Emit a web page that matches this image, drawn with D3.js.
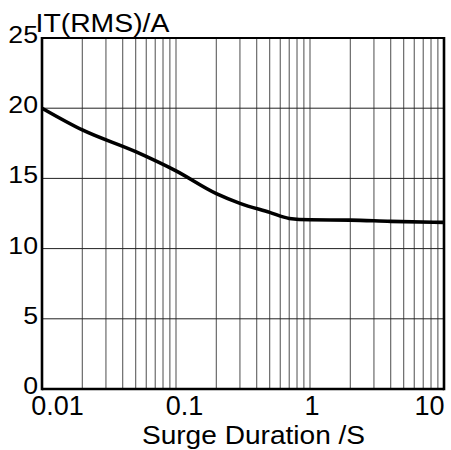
<!DOCTYPE html>
<html>
<head>
<meta charset="utf-8">
<script src="https://cdn.jsdelivr.net/npm/d3@7/dist/d3.min.js"></script>
<style>
  html, body { margin: 0; padding: 0; background: #fff; }
  svg { display: block; }
  text { font-family: "Liberation Sans", Arial, Helvetica, sans-serif; fill: #000; }
</style>
</head>
<body>
<svg id="chart" width="451" height="450"></svg>
<script>
// Surge duration (s) vs. RMS on-state current (A)
const durations = [0.01, 0.02, 0.05, 0.1, 0.2, 0.3, 0.5, 0.7, 1, 2, 4, 10];
const currents  = [20.0, 18.45, 16.9, 15.53, 13.91, 13.22, 12.58, 12.15, 12.05, 12.03, 11.94, 11.87];

const xTickValues = [0.01, 0.1, 1, 10];
const xTickLabels = ["0.01", "0.1", "1", "10"];
const yTickValues = [0, 5, 10, 15, 20, 25];
const yTickLabels = ["0", "5", "10", "15", "20", "25"];

const yTitle = "IT(RMS)/A";
const xTitle = "Surge Duration /S";

const svg = d3.select("#chart");
const plotLeft = 42, plotRight = 444, plotTop = 38, plotBottom = 389;

const x = d3.scaleLog().domain([0.01, 10]).range([plotLeft, plotRight]);
const y = d3.scaleLinear().domain([0, 25]).range([plotBottom, plotTop]);

// minor log grid: 2..9 in each decade plus the decade lines
const vGrid = [];
for (let e = -2; e < 1; e++) {
  for (let m = 1; m <= 10; m++) {
    const v = m * Math.pow(10, e);
    if (v > 0.01 && v < 10) vGrid.push(+v.toPrecision(3));
  }
}
const uniq = Array.from(new Set(vGrid));

svg.append("g")
  .selectAll("line").data(uniq).join("line")
  .attr("x1", d => x(d)).attr("x2", d => x(d))
  .attr("y1", plotTop).attr("y2", plotBottom)
  .attr("stroke", "#6a6a6a").attr("stroke-width", 1.2);

svg.append("g")
  .selectAll("line").data([5, 10, 15, 20]).join("line")
  .attr("x1", plotLeft).attr("x2", plotRight)
  .attr("y1", d => y(d)).attr("y2", d => y(d))
  .attr("stroke", "#222").attr("stroke-width", 1);

// frame
svg.append("line").attr("x1", plotLeft).attr("x2", plotRight).attr("y1", plotTop).attr("y2", plotTop)
  .attr("stroke", "#000").attr("stroke-width", 2);
svg.append("line").attr("x1", plotLeft).attr("x2", plotRight).attr("y1", plotBottom).attr("y2", plotBottom)
  .attr("stroke", "#000").attr("stroke-width", 2.6);
svg.append("line").attr("x1", plotLeft).attr("x2", plotLeft).attr("y1", plotTop - 1).attr("y2", plotBottom + 1.3)
  .attr("stroke", "#000").attr("stroke-width", 2.6);
svg.append("line").attr("x1", plotRight).attr("x2", plotRight).attr("y1", plotTop - 1).attr("y2", plotBottom + 1.3)
  .attr("stroke", "#000").attr("stroke-width", 2.6);

// curve
const line = d3.line()
  .x((d, i) => x(durations[i]))
  .y(d => y(d))
  .curve(d3.curveMonotoneX);

svg.append("path")
  .datum(currents)
  .attr("d", line)
  .attr("fill", "none")
  .attr("stroke", "#000")
  .attr("stroke-width", 3.6)
  .attr("stroke-linecap", "butt");

// places a text at (px, py) with a horizontal stretch
function stretched(g, str, px, py, size, sx, anchor) {
  return g.append("text")
    .attr("transform", `translate(${px},${py}) scale(${sx},1)`)
    .attr("text-anchor", anchor)
    .attr("font-size", size)
    .text(str);
}

// y tick labels
const yl = svg.append("g");
yTickValues.forEach((v, i) => {
  stretched(yl, yTickLabels[i], plotLeft - 4, y(v) + 5, 24.5, 1.09, "end");
});

// x tick labels, edge labels pulled inside the frame
const xl = svg.append("g");
const xNudge = [15.5, 8.5, 2, -14.5];
xTickValues.forEach((v, i) => {
  xl.append("text")
    .attr("x", x(v) + xNudge[i])
    .attr("y", 415)
    .attr("text-anchor", "middle")
    .attr("font-size", 27)
    .text(xTickLabels[i]);
});

// axis titles
stretched(svg, yTitle, 35.5, 31.8, 26.5, 1.07, "start");
stretched(svg, xTitle, 253.5, 444, 26.5, 1.06, "middle");
</script>
</body>
</html>
